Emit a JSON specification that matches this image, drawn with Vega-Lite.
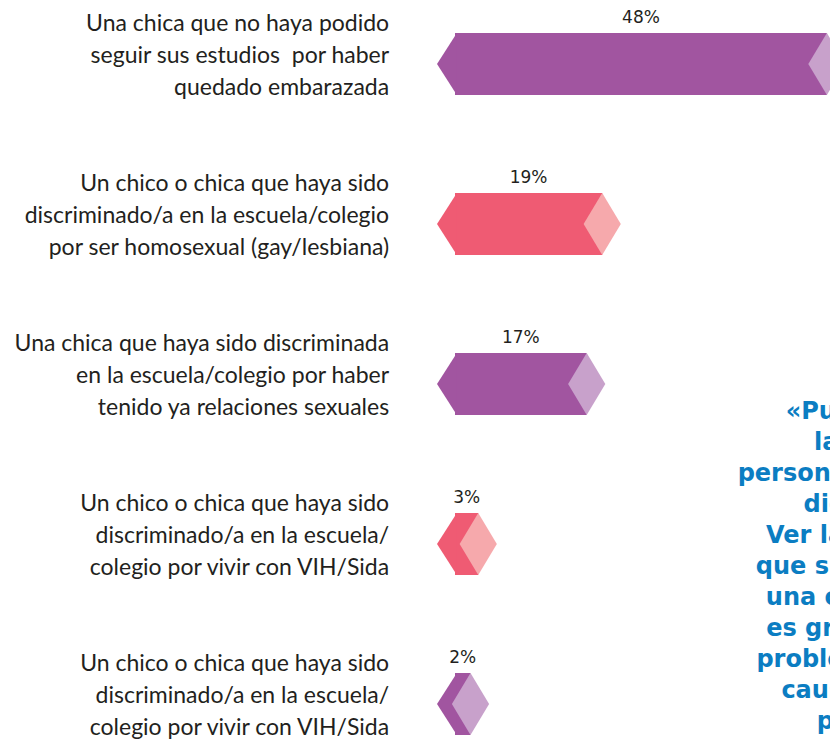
{
  "$schema": "https://vega.github.io/schema/vega-lite/v6.json",
  "width": 375,
  "height": 739,
  "autosize": {"type": "none"},
  "padding": {"left": 455, "top": 0, "right": 0, "bottom": 0},
  "background": "white",
  "config": {"view": {"stroke": null}},
  "datasets": {
    "barras": [
      {"id": "1", "valor": 48, "pct": "48%", "serie": "A", "etiqueta": "Una chica que no haya podido|seguir sus estudios\u00a0 por haber|quedado embarazada"},
      {"id": "2", "valor": 19, "pct": "19%", "serie": "B", "etiqueta": "Un chico o chica que haya sido|discriminado/a en la escuela/colegio|por ser homosexual (gay/lesbiana)"},
      {"id": "3", "valor": 17, "pct": "17%", "serie": "A", "etiqueta": "Una chica que haya sido discriminada|en la escuela/colegio por haber|tenido ya relaciones sexuales"},
      {"id": "4", "valor": 3, "pct": "3%", "serie": "B", "etiqueta": "Un chico o chica que haya sido|discriminado/a en la escuela/|colegio por vivir con VIH/Sida"},
      {"id": "5", "valor": 2, "pct": "2%", "serie": "A", "etiqueta": "Un chico o chica que haya sido|discriminado/a en la escuela/|colegio por vivir con VIH/Sida"}
    ],
    "cita": [
      {"texto": "«Pueden ser|la gente|personas que viven|dicen que|Ver las noticias|que suceden con|una comunidad|es grave, es un|problema que se|causa mucho|penas.»"}
    ]
  },
  "resolve": {"scale": {"x": "independent", "color": "independent"}},
  "layer": [
    {
      "data": {"name": "barras"},
      "mark": {"type": "bar", "size": 62},
      "encoding": {
        "y": {"field": "id", "type": "nominal", "scale": {"type": "point", "padding": 0, "range": [64, 704]}, "axis": null},
        "x": {"field": "valor", "type": "quantitative", "scale": {"domain": [0, 48.4], "nice": false, "zero": true}, "axis": null},
        "color": {"field": "serie", "type": "nominal", "scale": {"domain": ["A", "B"], "range": ["#a155a0", "#ef5b73"]}, "legend": null}
      }
    },
    {
      "data": {"name": "barras"},
      "mark": {"type": "point", "shape": "M0.06,-1L-0.58,0L0.06,1Z", "size": 3844, "filled": true, "opacity": 1, "strokeWidth": 0},
      "encoding": {
        "y": {"field": "id", "type": "nominal", "scale": {"type": "point", "padding": 0, "range": [64, 704]}, "axis": null},
        "x": {"datum": 0, "type": "quantitative", "scale": {"domain": [0, 48.4], "nice": false, "zero": true}, "axis": null},
        "color": {"field": "serie", "type": "nominal", "scale": {"domain": ["A", "B"], "range": ["#a155a0", "#ef5b73"]}, "legend": null}
      }
    },
    {
      "data": {"name": "barras"},
      "mark": {"type": "point", "shape": "M0,-1L0.6,0L0,1L-0.6,0Z", "size": 3844, "filled": true, "opacity": 1, "strokeWidth": 0},
      "encoding": {
        "y": {"field": "id", "type": "nominal", "scale": {"type": "point", "padding": 0, "range": [64, 704]}, "axis": null},
        "x": {"field": "valor", "type": "quantitative", "scale": {"domain": [0, 48.4], "nice": false, "zero": true}, "axis": null},
        "color": {"field": "serie", "type": "nominal", "scale": {"domain": ["A", "B"], "range": ["#c8a1cb", "#f6a9ac"]}, "legend": null}
      }
    },
    {
      "data": {"name": "barras"},
      "mark": {"type": "text", "font": "DejaVu Sans", "fontSize": 17, "color": "#231f20", "baseline": "middle", "align": "center", "dy": -46},
      "encoding": {
        "y": {"field": "id", "type": "nominal", "scale": {"type": "point", "padding": 0, "range": [64, 704]}, "axis": null},
        "x": {"field": "valor", "type": "quantitative", "scale": {"domain": [0, 96.8], "nice": false, "zero": true}, "axis": null},
        "text": {"field": "pct"}
      }
    },
    {
      "data": {"name": "barras"},
      "mark": {"type": "text", "font": "Lato", "fontSize": 23, "color": "#231f20", "baseline": "middle", "align": "right", "lineBreak": "|", "lineHeight": 32, "dy": -40},
      "encoding": {
        "y": {"field": "id", "type": "nominal", "scale": {"type": "point", "padding": 0, "range": [64, 704]}, "axis": null},
        "x": {"datum": -8.5, "type": "quantitative", "scale": {"domain": [0, 48.4], "nice": false, "zero": false}, "axis": null},
        "text": {"field": "etiqueta"}
      }
    },
    {
      "data": {"name": "cita"},
      "mark": {"type": "text", "font": "DejaVu Sans", "fontWeight": "bold", "fontSize": 24, "color": "#0b7dc2", "baseline": "middle", "align": "center", "lineBreak": "|", "lineHeight": 31, "dy": 28},
      "encoding": {
        "y": {"datum": "3", "type": "nominal", "scale": {"type": "point", "padding": 0, "domain": ["1", "2", "3", "4", "5"], "range": [64, 704]}, "axis": null},
        "x": {"datum": 53.5, "type": "quantitative", "scale": {"domain": [0, 48.4], "nice": false, "zero": false}, "axis": null},
        "text": {"field": "texto"}
      }
    }
  ]
}
